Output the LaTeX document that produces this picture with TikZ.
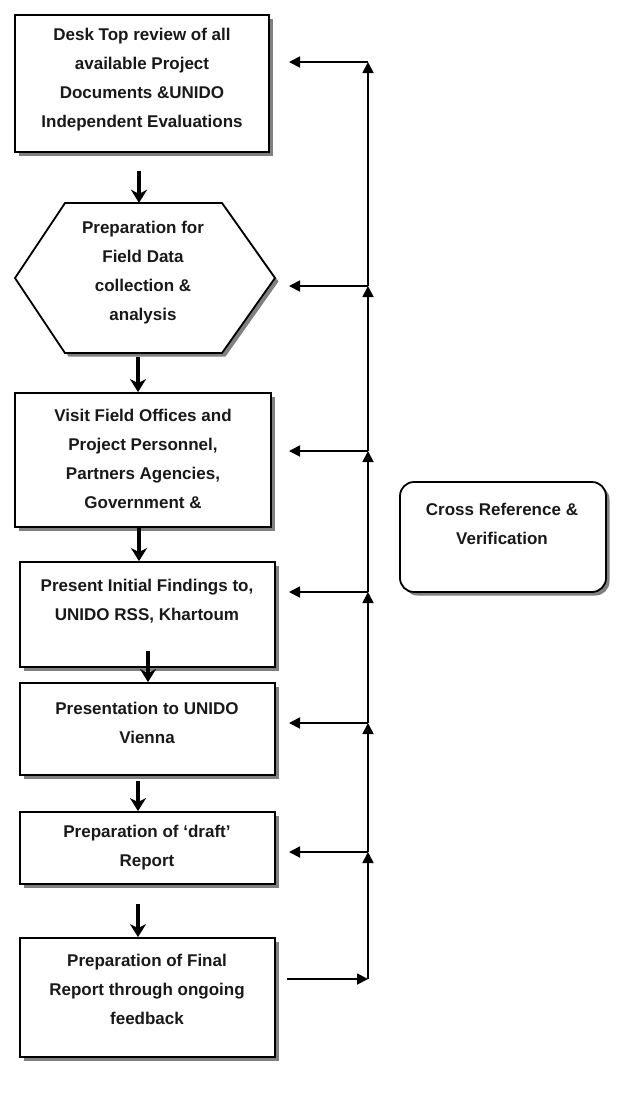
\documentclass[tikz,border=0pt]{standalone}
\usepackage{fontspec}
\setmainfont{Liberation Sans}
\usetikzlibrary{arrows.meta,shadows}
\begin{document}
\begin{tikzpicture}[x=1pt,y=-1pt,
  shad/.style={drop shadow={shadow xshift=3.5pt,shadow yshift=-3.5pt,fill=black!50,opacity=1}},
  box/.style={draw,line width=1.8pt,fill=white,shad,inner sep=0pt},
  txt/.style={font=\bfseries\fontsize{17}{29}\selectfont,align=center,text=black!90,inner sep=0pt},
  flow/.style={line width=3.8pt,-{Stealth[length=13pt,width=16pt,inset=4pt]}},
  fb/.style={line width=1.8pt,-{Triangle[length=11pt,width=11pt]}}]
\useasboundingbox (0,0) rectangle (636,1104);
% boxes
\node[box,minimum width=254pt,minimum height=137pt] (b1) at (142,83.5) {};
\path[draw,line width=1.8pt,fill=white,shad] (15,278) -- (65,203) -- (222,203) -- (275,278) -- (222,353) -- (65,353) -- cycle;
\node[minimum width=260pt,minimum height=150pt,inner sep=0pt] (b2) at (145,278) {};
\node[box,minimum width=256pt,minimum height=134pt] (b3) at (143,460) {};
\node[box,minimum width=255pt,minimum height=105pt] (b4) at (147.5,614.5) {};
\node[box,minimum width=255pt,minimum height=92pt] (b5) at (147.5,729) {};
\node[box,minimum width=255pt,minimum height=72pt] (b6) at (147.5,848) {};
\node[box,minimum width=255pt,minimum height=119pt] (b7) at (147.5,997.5) {};
\node[box,rounded corners=14pt,minimum width=206pt,minimum height=110pt] (cr) at (503,537) {};
% texts
\node[txt] (t1) at (142,79.5) {Desk Top review of all\\available Project\\Documents \&UNIDO\\Independent Evaluations};
\node[txt] (t2) at (143,272.5) {Preparation for\\Field Data\\collection \&\\analysis};
\node[txt] (t3) at (143,459) {Visit Field Offices and\\Project Personnel,\\Partners Agencies,\\Government \&};
\node[txt] (t4) at (147,601) {Present Initial Findings to,\\UNIDO RSS, Khartoum};
\node[txt] (t5) at (147,723) {Presentation to UNIDO\\Vienna};
\node[txt] (t6) at (147,848) {Preparation of ‘draft’\\Report};
\node[txt] (t7) at (147,989) {Preparation of Final\\Report through ongoing\\feedback};
\node[txt] (tc) at (502,524) {Cross Reference \&\\Verification};
% flow arrows
\coordinate (s1) at ([shift={(-3,18)}]b1.south);
\coordinate (s2) at ([shift={(-7,4)}]b2.south);
\coordinate (s3) at ([shift={(-4,0)}]b3.south);
\coordinate (s4) at ([shift={(0.5,-17)}]b4.south);
\coordinate (s5) at ([shift={(-9.5,5)}]b5.south);
\coordinate (s6) at ([shift={(-9.5,19)}]b6.south);
\draw[flow] (s1) -- (s1 |- b2.north);
\draw[flow] (s2) -- (s2 |- b3.north);
\draw[flow] (s3) -- (s3 |- b4.north);
\draw[flow] (s4) -- (s4 |- b5.north);
\draw[flow] (s5) -- (s5 |- b6.north);
\draw[flow] (s6) -- (s6 |- b7.north);
% feedback
\coordinate (j1) at (368,62);
\coordinate (j2) at (368,286);
\coordinate (j3) at (368,451);
\coordinate (j4) at (368,592);
\coordinate (j5) at (368,723);
\coordinate (j6) at (368,852);
\coordinate (j7) at (368,979);
\coordinate (e1) at (289,62);
\coordinate (e2) at (289,286);
\coordinate (e3) at (289,451);
\coordinate (e4) at (289,592);
\coordinate (e5) at (289,723);
\coordinate (e6) at (289,852);
\coordinate (e7) at (287,979);
\draw[fb] (e7) -- (j7);
\draw[fb] (j7) -- (j6);
\draw[fb] (j6) -- (j5);
\draw[fb] (j5) -- (j4);
\draw[fb] (j4) -- (j3);
\draw[fb] (j3) -- (j2);
\draw[fb] (j2) -- (j1);
\draw[fb] (j1) -- (e1);
\draw[fb] (j2) -- (e2);
\draw[fb] (j3) -- (e3);
\draw[fb] (j4) -- (e4);
\draw[fb] (j5) -- (e5);
\draw[fb] (j6) -- (e6);
\end{tikzpicture}
\end{document}
